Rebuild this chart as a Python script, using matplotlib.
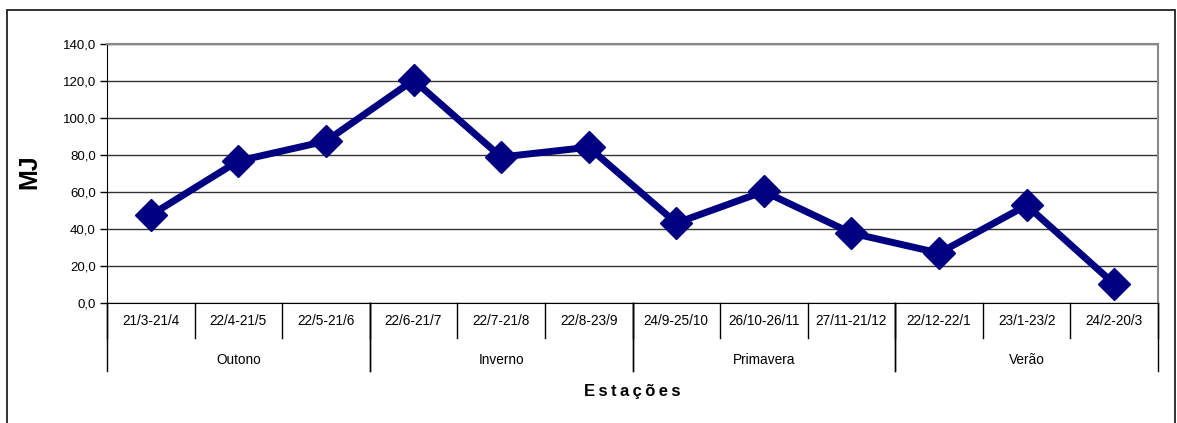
import matplotlib
matplotlib.use("Agg")
import matplotlib.pyplot as plt
import matplotlib.transforms as mtransforms
from matplotlib.patches import Rectangle

plt.rcParams["font.family"] = ["Liberation Sans", "DejaVu Sans"]

#Data
periods = ["21/3-21/4", "22/4-21/5", "22/5-21/6", "22/6-21/7", "22/7-21/8", "22/8-23/9",
           "24/9-25/10", "26/10-26/11", "27/11-21/12", "22/12-22/1", "23/1-23/2", "24/2-20/3"]
seasons = ["Outono", "Inverno", "Primavera", "Verão"]
season_size = [3, 3, 3, 3]
energy = [47.5, 76.8, 87.5, 120.5, 78.9, 84.2, 43.2, 60.3, 37.8, 27.0, 52.8, 10.3]
y_ticks = [0, 20, 40, 60, 80, 100, 120, 140]

fig = plt.figure(figsize=(11.77, 4.23), dpi=100)
ax = fig.add_axes([107/1177, 1 - 303/423, (1158 - 107)/1177, (303 - 44)/423])

#Outer chart frame
fig.patches.append(Rectangle((7/1177, -0.05), (1175 - 7)/1177, 1.05 - 10/423,
                             transform=fig.transFigure, fill=False, edgecolor="#222222", linewidth=1.3))

x = list(range(len(periods)))
ax.plot(x, energy, color="#000080", linewidth=5, marker="D", markersize=16, zorder=3)

ax.set_xlim(-0.5, len(periods) - 0.5)
ax.set_ylim(0, 140)
ax.set_yticks(y_ticks)
ax.set_yticklabels([("%.1f" % v).replace(".", ",") for v in y_ticks], fontsize=9.5)
ax.tick_params(axis="y", length=5, width=1, color="black", pad=3)
ax.set_xticks([])
ax.yaxis.grid(True, color="#333333", linewidth=1)
ax.set_axisbelow(True)

ax.spines["left"].set_color("black")
ax.spines["bottom"].set_color("black")
ax.spines["top"].set_color("#888888")
ax.spines["right"].set_color("#888888")
ax.spines["top"].set_linewidth(1.5)
ax.spines["right"].set_linewidth(1.5)

#Two level category axis
trans = mtransforms.blended_transform_factory(ax.transData, ax.transAxes)
px = 1 / (303 - 44)
for i, label in enumerate(periods):
    ax.text(i, -18 * px, label, transform=trans, ha="center", va="center", fontsize=9.8)
for i in range(len(periods) + 1):
    ax.plot([i - 0.5, i - 0.5], [0, -35 * px], transform=trans, color="black",
            linewidth=1, clip_on=False)

start = 0
for name, n in zip(seasons, season_size):
    ax.text(start + n / 2 - 0.5, -57 * px, name, transform=trans, ha="center", va="center", fontsize=9.8)
    for b in (start, start + n):
        ax.plot([b - 0.5, b - 0.5], [0, -68 * px], transform=trans, color="black",
                linewidth=1, clip_on=False)
    start += n

ax.text(0.5, -88 * px, "\u2009".join("Estações"), transform=ax.transAxes, ha="center", va="center",
        fontsize=12, fontweight="bold")
fig.text(29/1177, 1 - 172/423, "MJ", rotation=90, ha="center", va="center",
         fontsize=18, fontweight="bold")

plt.savefig("out.png", dpi=100)
